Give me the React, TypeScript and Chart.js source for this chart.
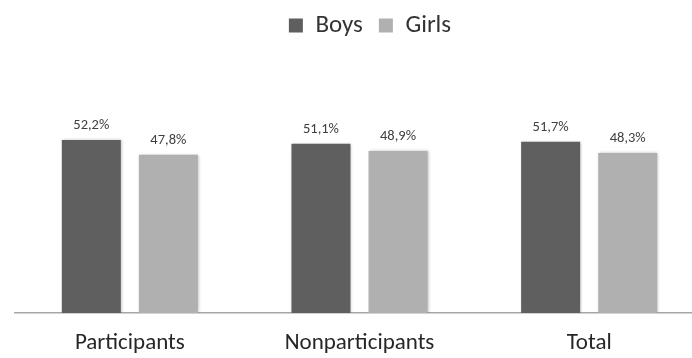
import { useEffect, useRef } from "react";
import { Chart, registerables } from "chart.js";

Chart.register(...registerables);

// Share of boys and girls (%) in each group
const categories = ["Participants", "Nonparticipants", "Total"];
const seriesNames = ["Boys", "Girls"];
const boysValues = [52.2, 51.1, 51.7];
const girlsValues = [47.8, 48.9, 48.3];

const FONT = "Carlito, Lato, 'Open Sans', sans-serif";
const BOYS_COLOR = "#5f5f5f";
const GIRLS_COLOR = "#b0b0b0";

// Soft drop shadow behind the bars
const barShadow = {
  id: "barShadow",
  beforeDatasetsDraw(chart: any) {
    const ctx = chart.ctx;
    ctx.save();
    ctx.shadowColor = "rgba(0,0,0,0.28)";
    ctx.shadowBlur = 3;
    ctx.shadowOffsetX = 1;
    ctx.shadowOffsetY = 0;
  },
  afterDatasetsDraw(chart: any) {
    chart.ctx.restore();
  },
};

// Percentage labels above each bar, with a decimal comma
const valueLabels = {
  id: "valueLabels",
  afterDatasetsDraw(chart: any) {
    const ctx = chart.ctx;
    ctx.save();
    ctx.font = `14.5px ${FONT}`;
    ctx.fillStyle = "#404040";
    ctx.textAlign = "center";
    ctx.textBaseline = "alphabetic";
    chart.data.datasets.forEach((ds: any, di: number) => {
      const meta = chart.getDatasetMeta(di);
      meta.data.forEach((bar: any, i: number) => {
        const v = ds.data[i] as number;
        ctx.fillText(v.toFixed(1).replace(".", ",") + "%", bar.x, bar.y - 11);
      });
    });
    ctx.restore();
  },
};

export default function App() {
  const canvasRef = useRef<HTMLCanvasElement | null>(null);

  useEffect(() => {
    if (!canvasRef.current) return;
    const chart = new Chart(canvasRef.current, {
      type: "bar",
      data: {
        labels: categories,
        datasets: [
          {
            label: seriesNames[0],
            data: boysValues,
            backgroundColor: BOYS_COLOR,
            borderWidth: 0,
            categoryPercentage: 0.671,
            barPercentage: 0.766,
          },
          {
            label: seriesNames[1],
            data: girlsValues,
            backgroundColor: GIRLS_COLOR,
            borderWidth: 0,
            categoryPercentage: 0.671,
            barPercentage: 0.766,
          },
        ],
      },
      options: {
        animation: false,
        responsive: true,
        maintainAspectRatio: false,
        layout: { padding: { top: -3, left: 0, right: 0, bottom: 0 } },
        plugins: {
          tooltip: { enabled: false },
          legend: {
            position: "top",
            labels: {
              boxWidth: 14,
              boxHeight: 14,
              padding: 16,
              color: "#333333",
              font: { family: FONT, size: 25 },
            },
          },
        },
        scales: {
          x: {
            grid: { display: false, drawTicks: false },
            border: { display: true, color: "#a6a6a6", width: 1.5 },
            ticks: {
              color: "#262626",
              padding: 16,
              font: { family: FONT, size: 23 },
            },
            afterFit: (scale: any) => {
              scale.height = 45;
            },
          },
          y: {
            position: "left",
            min: 0,
            max: 80,
            display: true,
            grid: { display: false },
            border: { display: false },
            ticks: { display: false },
            afterFit: (scale: any) => {
              scale.width = 15;
            },
          },
          yRight: {
            type: "linear",
            position: "right",
            display: true,
            grid: { display: false },
            border: { display: false },
            ticks: { display: false },
            afterFit: (scale: any) => {
              scale.width = 36;
            },
          },
        },
      },
      plugins: [barShadow, valueLabels],
    });
    return () => chart.destroy();
  }, []);

  return (
    <div
      style={{
        position: "fixed",
        left: 0,
        top: 0,
        width: 692,
        height: 358,
        overflow: "hidden",
        background: "#ffffff",
      }}
    >
      <div style={{ position: "relative", width: 740, height: 358 }}>
        <canvas ref={canvasRef} />
      </div>
    </div>
  );
}
